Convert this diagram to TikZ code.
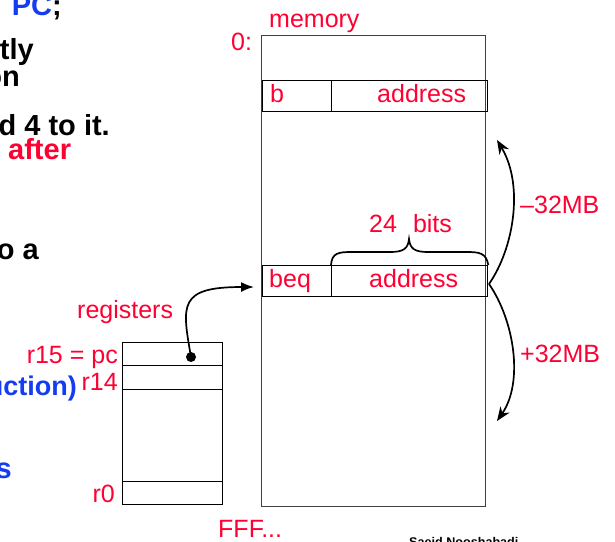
\documentclass[tikz,border=0pt]{standalone}
\usepackage{fontspec}
\setmainfont{Liberation Sans}
\usetikzlibrary{arrows.meta}
\definecolor{tred}{RGB}{255,0,51}
\definecolor{tblue}{RGB}{20,60,240}
\begin{document}
\begin{tikzpicture}[x=1pt,y=-1pt,
  lbl/.style={font=\fontsize{25}{30}\selectfont, text=tred, inner sep=0},
  boldtxt/.style={font=\fontsize{29}{34}\selectfont\bfseries, inner sep=0},
  cell/.style={draw, line width=1.3pt, inner sep=0, anchor=north west},
  conn/.style={line width=1.7pt},
  tip/.style={-{Stealth[length=14pt,width=11pt]}}
]
\useasboundingbox (0,0) rectangle (615,541);
\clip (0,0) rectangle (615,541);

% left, clipped bullet text
\node[boldtxt, anchor=base east] (t1) at (62,15) {\textcolor{tblue}{PC};};
\node[boldtxt, anchor=base east] (t2) at (34,59) {tly};
\node[boldtxt, anchor=base east] (t3) at (20,86) {on};
\node[boldtxt, anchor=base east] (t4) at (110,135) {d 4 to it.};
\node[boldtxt, anchor=base west, text=tred] (t5) at (8,159) {after};
\node[boldtxt, anchor=base east] (t6) at (39,259) {o a};
\node[boldtxt, anchor=base east, text=tblue, font=\fontsize{27}{32}\selectfont\bfseries] (t7) at (77,395) {uction)};
\node[boldtxt, anchor=base east, text=tblue] (t8) at (12,478) {s};

% memory
\node[cell, draw=black!75, minimum width=224pt, minimum height=471pt] (mem) at (261,35) {};
\node[lbl, anchor=base west] (memlbl) at (269,27) {memory};
\node[lbl, anchor=base west] (zero) at (231,50) {0:};
\node[lbl, anchor=base west] (fff) at (218,537) {FFF...};

\node[cell, minimum width=69pt, minimum height=31pt] (bop) at (262,80) {};
\node[cell, minimum width=156pt, minimum height=31pt] (baddr) at (331,80) {};
\node[lbl, anchor=base west] (btxt) at (270,102) {b};
\node[lbl, anchor=base west] (batxt) at (377,102) {address};

\node[cell, minimum width=69pt, minimum height=31pt] (beqop) at (262,265) {};
\node[cell, minimum width=156pt, minimum height=31pt] (beqaddr) at (331,265) {};
\node[lbl, anchor=base west] (beqtxt) at (269,287) {beq};
\node[lbl, anchor=base west] (beqatxt) at (369,287) {address};

% brace
\draw[conn] (beqaddr.north west) .. controls (332,253) and (338,252) .. (352,252)
  -- (390,252) .. controls (403,252) and (408,249) .. (409,239)
  .. controls (410,249) and (415,252) .. (428,252) -- (466,252)
  .. controls (480,252) and (486,253) .. (beqaddr.north east);
\node[lbl, anchor=base west] (bits) at (369,232) {24\hspace{16pt}bits};

% range arrows
\coordinate (pivot) at (489,284);
\coordinate (uptip) at (497,140);
\coordinate (dntip) at (497,421);
\draw[conn, tip] (pivot) .. controls (514,248) and (524,185) .. (uptip);
\draw[conn, tip] (pivot) .. controls (514,320) and (524,382) .. (dntip);
\node[lbl, anchor=base west] (minus) at (520,213) {–32MB};
\node[lbl, anchor=base west] (plus) at (520,362) {+32MB};

% registers
\node[cell, minimum width=100pt, minimum height=162pt] (regs) at (122,342) {};
\node[cell, minimum width=100pt, minimum height=23pt] (r15) at (122,342) {};
\node[cell, minimum width=100pt, minimum height=24pt] (r14) at (122,365) {};
\node[cell, minimum width=100pt, minimum height=23pt] (r0) at (122,481) {};
\node[lbl, anchor=base west] (reglbl) at (77,318) {registers};
\node[lbl, anchor=base east] (r15t) at (118,363) {r15 = pc};
\node[lbl, anchor=base east] (r14t) at (118,390) {r14};
\node[lbl, anchor=base east] (r0t) at (115,502) {r0};

\node[circle, fill, inner sep=0, minimum size=10pt] (dot) at (191,357) {};
\coordinate (pctip) at (254,287);
\draw[conn, -{Latex[length=13pt,width=10pt]}] (dot.center) .. controls (182,305) and (178,287) .. (pctip);

% footer
\node[font=\fontsize{12.6}{15}\selectfont\bfseries, anchor=base west, inner sep=0] (auth) at (409,546) {Saeid Nooshabadi};
\end{tikzpicture}
\end{document}
